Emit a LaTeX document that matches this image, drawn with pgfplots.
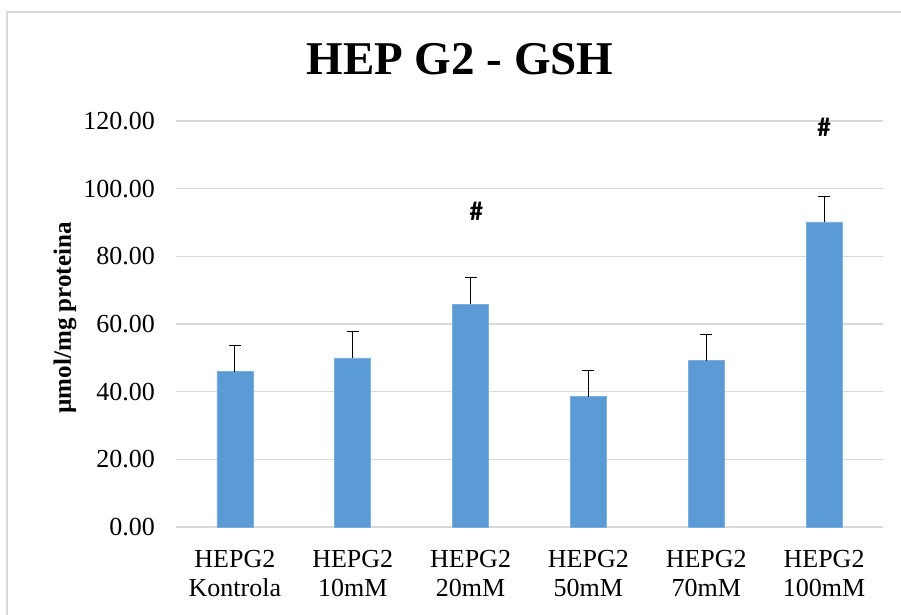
\documentclass[border=0pt]{standalone}
\usepackage{fontspec}
\setmainfont{Liberation Serif}
\newfontfamily\calfont{Carlito}
\usepackage{pgfplots}
\pgfplotsset{compat=1.18}
\definecolor{barblue}{HTML}{5B9BD5}
\definecolor{gridgray}{HTML}{D9D9D9}
\begin{document}
\begin{tikzpicture}
\useasboundingbox (0pt,0pt) rectangle (450.5pt,-307.5pt);
\draw[gridgray, line width=0.8pt] (3.5pt,-310pt) -- (3.5pt,-6pt) -- (455pt,-6pt);
\begin{axis}[
  at={(88pt,-263.5pt)}, anchor=south west,
  scale only axis, width=353.5pt, height=203pt,
  xmin=-0.5, xmax=5.5, ymin=0, ymax=120,
  ytick={0,20,...,120},
  xtick={0,1,2,3,4,5},
  xticklabels={{HEPG2\\Kontrola},{HEPG2\\10mM},{HEPG2\\20mM},{HEPG2\\50mM},{HEPG2\\70mM},{HEPG2\\100mM}},
  xticklabel style={align=center, font=\fontsize{13}{14.8}\selectfont, yshift=-8pt},
  yticklabel style={font=\fontsize{13}{15}\selectfont, xshift=-7pt},
  /pgf/number format/assume math mode=true,
  yticklabel={\pgfmathprintnumber[fixed,fixed zerofill,precision=2]{\tick}},
  major tick length=0pt,
  axis line style={draw=none},
  ymajorgrids, grid style={gridgray, line width=0.8pt},
  ybar, bar width=18pt,
  ylabel={µmol/mg proteina},
  ylabel style={at={(axis description cs:-0.157,0.515)}, anchor=center, font=\bfseries\fontsize{12.5}{14}\selectfont},
  title={HEP G2 - GSH},
  title style={at={(axis description cs:0.4017,1.149)}, anchor=center, yshift=-5.5pt, font=\bfseries\fontsize{23.5}{26}\selectfont},
  clip=false,
]
\addplot[fill=barblue, draw=barblue!80!white, line width=0.3pt,
  error bars/.cd, y dir=plus, y explicit,
  error bar style={black, line width=0.5pt},
  error mark options={rotate=90, mark size=3pt, black, line width=0.5pt}]
  coordinates {
  (0,45.9) +- (0,7.6)
  (1,50.0) +- (0,7.7)
  (2,65.9) +- (0,7.7)
  (3,38.5) +- (0,7.7)
  (4,49.2) +- (0,7.6)
  (5,90.2) +- (0,7.6)
  };
\node[font=\calfont\bfseries\fontsize{13.5}{15}\selectfont] at (axis cs:2.05,93.2) {\#};
\node[font=\calfont\bfseries\fontsize{13.5}{15}\selectfont] at (axis cs:5,118.2) {\#};
\end{axis}
\end{tikzpicture}
\end{document}
